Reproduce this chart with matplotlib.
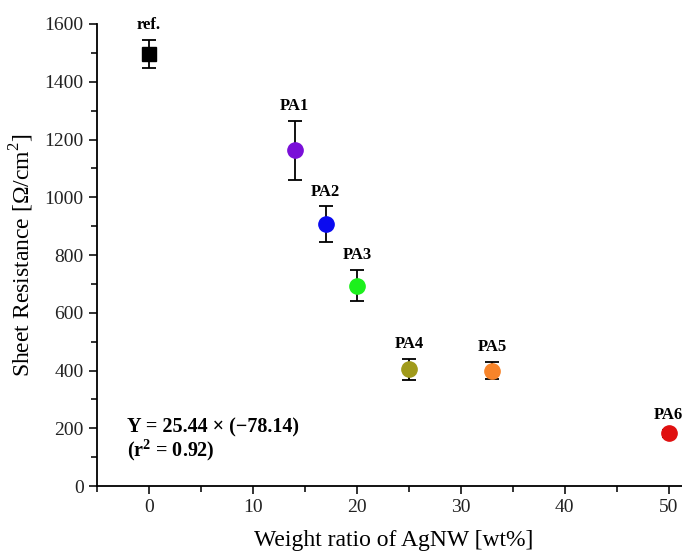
import matplotlib
matplotlib.use("Agg")
import matplotlib.pyplot as plt
from matplotlib.ticker import MultipleLocator

plt.rcParams['font.family'] = ['Liberation Serif', 'DejaVu Serif']
plt.rcParams['mathtext.fontset'] = 'custom'
plt.rcParams['mathtext.rm'] = 'Liberation Serif'
plt.rcParams['mathtext.bf'] = 'Liberation Serif:bold'

# data
labels = ["ref.", "PA1", "PA2", "PA3", "PA4", "PA5", "PA6"]
weight = [0, 14, 17, 20, 25, 33, 50]
resistance = [1497, 1162, 906, 694, 404, 400, 182]
errors = [48, 103, 62, 54, 36, 30, 12]
colors = ["black", "#7a0fd8", "#0a0af0", "#1cf01c", "#a09a1a", "#f7842a", "#e01010"]
markers = ["s", "o", "o", "o", "o", "o", "o"]

fig = plt.figure(figsize=(6.82, 5.58), dpi=100)
ax = fig.add_axes([0.1422, 0.129, 0.869, 0.828])

for x, y, e, c, m, lab in zip(weight, resistance, errors, colors, markers, labels):
    ax.errorbar(x, y, yerr=e, fmt=m, color=c, markersize=11 if m == "o" else 10,
                ecolor="black", elinewidth=1.3, capsize=5, capthick=1.3,
                zorder=3, clip_on=False)
    ax.text(x, y + e + 24, lab, ha="center", va="bottom", fontsize=12,
            fontweight="bold", clip_on=False)

ax.text(-2.1, 204, "Y = 25.44 \u00d7 (\u221278.14)", fontsize=14.5,
        fontweight="bold", va="center")
ax.text(-2.1, 125, "(r$^\\mathbf{2}$ = 0.92)", fontsize=14.5,
        fontweight="bold", va="center")

ax.set_xlim(-5, 52)
ax.set_ylim(0, 1600)
ax.xaxis.set_major_locator(MultipleLocator(10))
ax.xaxis.set_minor_locator(MultipleLocator(5))
ax.yaxis.set_major_locator(MultipleLocator(200))
ax.yaxis.set_minor_locator(MultipleLocator(100))
ax.tick_params(which="both", direction="out", width=1.3, labelsize=14, colors="#222222")
ax.tick_params(which="major", length=6)
ax.tick_params(which="minor", length=4)

for s in ["top", "right"]:
    ax.spines[s].set_visible(False)
for s in ["left", "bottom"]:
    ax.spines[s].set_linewidth(1.3)

ax.set_xlabel("Weight ratio of AgNW [wt%]", fontsize=17, labelpad=10)
ax.set_ylabel("Sheet Resistance [\u03a9/cm$^2$]", fontsize=17, labelpad=6)

fig.savefig("out.png", dpi=100)
